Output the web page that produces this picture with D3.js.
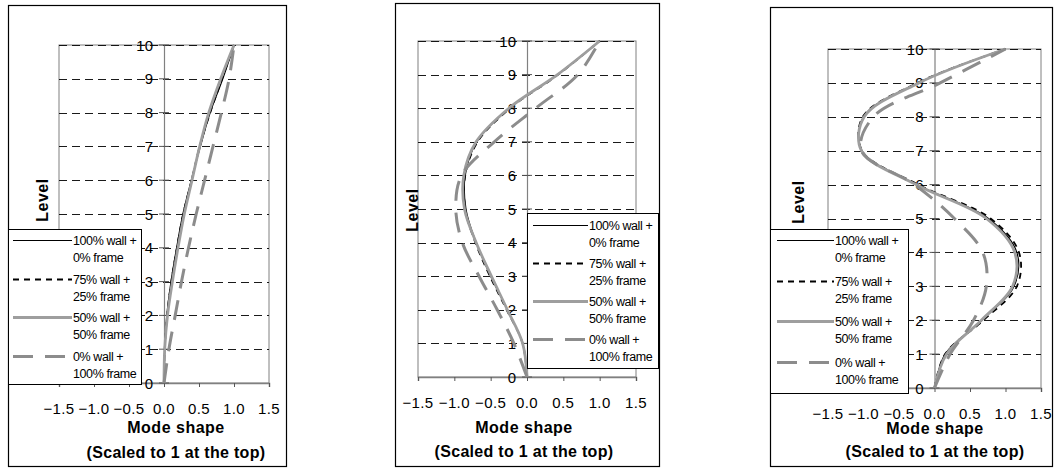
<!DOCTYPE html>
<html>
<head>
<meta charset="utf-8">
<script src="https://cdn.jsdelivr.net/npm/d3@7"></script>
<style>
  body { margin: 0; background: #fff; }
  text { font-family: "Liberation Sans", Arial, sans-serif; fill: #000; }
</style>
</head>
<body>
<svg id="chart" width="1055" height="468"></svg>
<script>
// levels (y) and mode-shape values (x)
var levels = [0, 1, 2, 3, 4, 5, 6, 7, 8, 9, 10];
var xTicks = [-1.5, -1.0, -0.5, 0.0, 0.5, 1.0, 1.5];
var yTicks = [0, 1, 2, 3, 4, 5, 6, 7, 8, 9, 10];
var seriesNames = [["100% wall +", "0% frame"], ["75% wall +", "25% frame"],
                   ["50% wall +", "50% frame"], ["0% wall +", "100% frame"]];

// mode 1
var m1Wall100 = [0, 0.01, 0.04, 0.10, 0.18, 0.27, 0.39, 0.52, 0.66, 0.84, 1.0];
var m1Wall75  = [0, 0.01, 0.045, 0.105, 0.185, 0.275, 0.395, 0.51, 0.66, 0.83, 1.0];
var m1Wall50  = [0, 0.01, 0.05, 0.12, 0.20, 0.29, 0.40, 0.51, 0.64, 0.81, 1.0];
var m1Wall0   = [0, 0.07, 0.16, 0.25, 0.35, 0.46, 0.58, 0.70, 0.82, 0.93, 1.0];
// mode 2
var m2Wall100 = [0, -0.06, -0.27, -0.50, -0.70, -0.84, -0.85, -0.69, -0.24, 0.42, 1.0];
var m2Wall75  = [0, -0.06, -0.28, -0.51, -0.71, -0.85, -0.85, -0.68, -0.23, 0.43, 1.0];
var m2Wall50  = [0, -0.06, -0.27, -0.49, -0.70, -0.86, -0.87, -0.70, -0.25, 0.42, 1.0];
var m2Wall0   = [0, -0.18, -0.41, -0.66, -0.89, -0.98, -0.90, -0.45, 0.12, 0.70, 1.0];
// mode 3
var m3Wall100 = [0, 0.15, 0.67, 1.12, 1.16, 0.76, -0.25, -1.02, -1.00, -0.23, 1.0];
var m3Wall75  = [0, 0.15, 0.69, 1.16, 1.19, 0.79, -0.23, -1.02, -1.01, -0.24, 1.0];
var m3Wall50  = [0, 0.17, 0.66, 1.10, 1.13, 0.73, -0.26, -1.03, -0.99, -0.22, 1.0];
var m3Wall0   = [0, 0.22, 0.55, 0.73, 0.68, 0.28, -0.28, -1.03, -0.86, 0.08, 1.0];

var styles = [
  {stroke: "#000", width: 1.2, dash: null},
  {stroke: "#000", width: 1.8, dash: "6,5"},
  {stroke: "#9e9e9e", width: 2.8, dash: null},
  {stroke: "#8c8c8c", width: 3, dash: "20,12"}
];

var panels = [
  {series: [m1Wall100, m1Wall75, m1Wall50, m1Wall0],
   outer: [8, 5, 278, 461], plot: [59, 269, 45, 383],
   legend: [8, 229, 133, 155, 11, 38.5, 13, 72],
   levelX: 42, levelY: 200, tickY: 408, t1Y: 427, t2Y: 452, titleX: 176},
  {series: [m2Wall100, m2Wall75, m2Wall50, m2Wall0],
   outer: [395, 3, 264, 463], plot: [418, 636, 41, 377],
   legend: [527, 213, 131, 155, 12, 38, 533, 588],
   levelX: 412, levelY: 210, tickY: 402, t1Y: 427, t2Y: 451, titleX: 524},
  {series: [m3Wall100, m3Wall75, m3Wall50, m3Wall0],
   outer: [770, 7, 282, 459], plot: [828, 1041, 49, 388],
   legend: [770, 229, 138, 164, 11, 40.5, 777, 834],
   levelX: 798, levelY: 202, tickY: 413, t1Y: 428, t2Y: 451, titleX: 935}
];

var svg = d3.select("#chart");

function drawPanel(p) {
  var g = svg.append("g");
  var x = d3.scaleLinear().domain([-1.5, 1.5]).range([p.plot[0], p.plot[1]]);
  var y = d3.scaleLinear().domain([0, 10]).range([p.plot[3], p.plot[2]]);

  // outer chart border
  g.append("rect")
    .attr("x", p.outer[0] + 0.5).attr("y", p.outer[1] + 0.5)
    .attr("width", p.outer[2]).attr("height", p.outer[3])
    .attr("fill", "#fff").attr("stroke", "#000").attr("stroke-width", 1.2);

  // plot area border
  g.append("rect")
    .attr("x", x(-1.5)).attr("y", y(10))
    .attr("width", x(1.5) - x(-1.5)).attr("height", y(0) - y(10))
    .attr("fill", "none").attr("stroke", "#808080").attr("stroke-width", 1);

  // dashed gridlines
  g.selectAll(".grid").data(yTicks.slice(1)).enter().append("line")
    .attr("x1", x(-1.5)).attr("x2", x(1.5))
    .attr("y1", d => Math.round(y(d)) + 0.5).attr("y2", d => Math.round(y(d)) + 0.5)
    .attr("stroke", "#000").attr("stroke-width", 0.9).attr("stroke-dasharray", "8,5");

  // x axis along level 0
  var xAxis = d3.axisBottom(x).tickValues(xTicks).tickSize(4).tickFormat("");
  var xg = g.append("g").attr("transform", "translate(0," + y(0) + ")").call(xAxis);
  xg.select(".domain").attr("stroke", "#808080").attr("stroke-width", 1.5);
  xg.selectAll(".tick line").attr("stroke", "#555");
  g.selectAll(".xlab").data(xTicks).enter().append("text")
    .attr("x", d => x(d)).attr("y", p.tickY + 5.5)
    .attr("text-anchor", "middle").attr("font-size", 15).attr("letter-spacing", 0.4)
    .text(d => d3.format(".1f")(d));

  // y axis at x = 0
  var yAxis = d3.axisLeft(y).tickValues(yTicks).tickSize(0).tickFormat("");
  var yg = g.append("g").attr("transform", "translate(" + x(0) + ",0)").call(yAxis);
  yg.select(".domain").attr("stroke", "#808080").attr("stroke-width", 1.2);
  g.selectAll(".ytick").data(yTicks).enter().append("line")
    .attr("x1", x(0) - 5).attr("x2", x(0) + 5)
    .attr("y1", d => y(d)).attr("y2", d => y(d))
    .attr("stroke", "#555").attr("stroke-width", 1);
  g.selectAll(".ylab").data(yTicks).enter().append("text")
    .attr("x", x(0) - 11).attr("y", d => y(d) + 5.5)
    .attr("text-anchor", "end").attr("font-size", 15)
    .text(d => d);

  // mode shape curves
  var line = d3.line()
    .x(d => x(d[0])).y(d => y(d[1]))
    .curve(d3.curveCatmullRom);
  p.series.forEach(function(s, i) {
    var pts = s.map((v, k) => [v, levels[k]]);
    g.append("path")
      .attr("d", line(pts))
      .attr("fill", "none")
      .attr("stroke", styles[i].stroke)
      .attr("stroke-width", styles[i].width)
      .attr("stroke-dasharray", styles[i].dash);
  });

  // axis titles
  g.append("text").attr("x", p.titleX).attr("y", p.t1Y + 6)
    .attr("text-anchor", "middle").attr("font-size", 16).attr("font-weight", "bold")
    .attr("letter-spacing", 0.5)
    .text("Mode shape");
  g.append("text").attr("x", p.titleX).attr("y", p.t2Y + 6)
    .attr("text-anchor", "middle").attr("font-size", 16).attr("font-weight", "bold")
    .attr("letter-spacing", 0.3)
    .text("(Scaled to 1 at the top)");
  g.append("text")
    .attr("transform", "translate(" + (p.levelX + 6) + "," + p.levelY + ") rotate(-90)")
    .attr("text-anchor", "middle").attr("font-size", 16).attr("font-weight", "bold")
    .attr("letter-spacing", 0.5)
    .text("Level");

  // legend
  var L = p.legend;
  var lg = g.append("g");
  lg.append("rect")
    .attr("x", L[0] + 0.5).attr("y", L[1] + 0.5).attr("width", L[2]).attr("height", L[3])
    .attr("fill", "#fff").attr("stroke", "#000").attr("stroke-width", 1);
  seriesNames.forEach(function(nm, i) {
    var cy = Math.round(L[1] + L[4] + i * L[5]) + 0.5;
    lg.append("line")
      .attr("x1", L[6]).attr("x2", L[7]).attr("y1", cy).attr("y2", cy)
      .attr("stroke", styles[i].stroke)
      .attr("stroke-width", styles[i].width)
      .attr("stroke-dasharray", styles[i].dash);
    lg.append("text").attr("x", L[7] + 1).attr("y", cy + 4.5)
      .attr("font-size", 12.5).attr("letter-spacing", -0.4).text(nm[0]);
    lg.append("text").attr("x", L[7] + 1).attr("y", cy + 21.5)
      .attr("font-size", 12.5).attr("letter-spacing", -0.4).text(nm[1]);
  });
}

panels.forEach(drawPanel);
</script>
</body>
</html>
